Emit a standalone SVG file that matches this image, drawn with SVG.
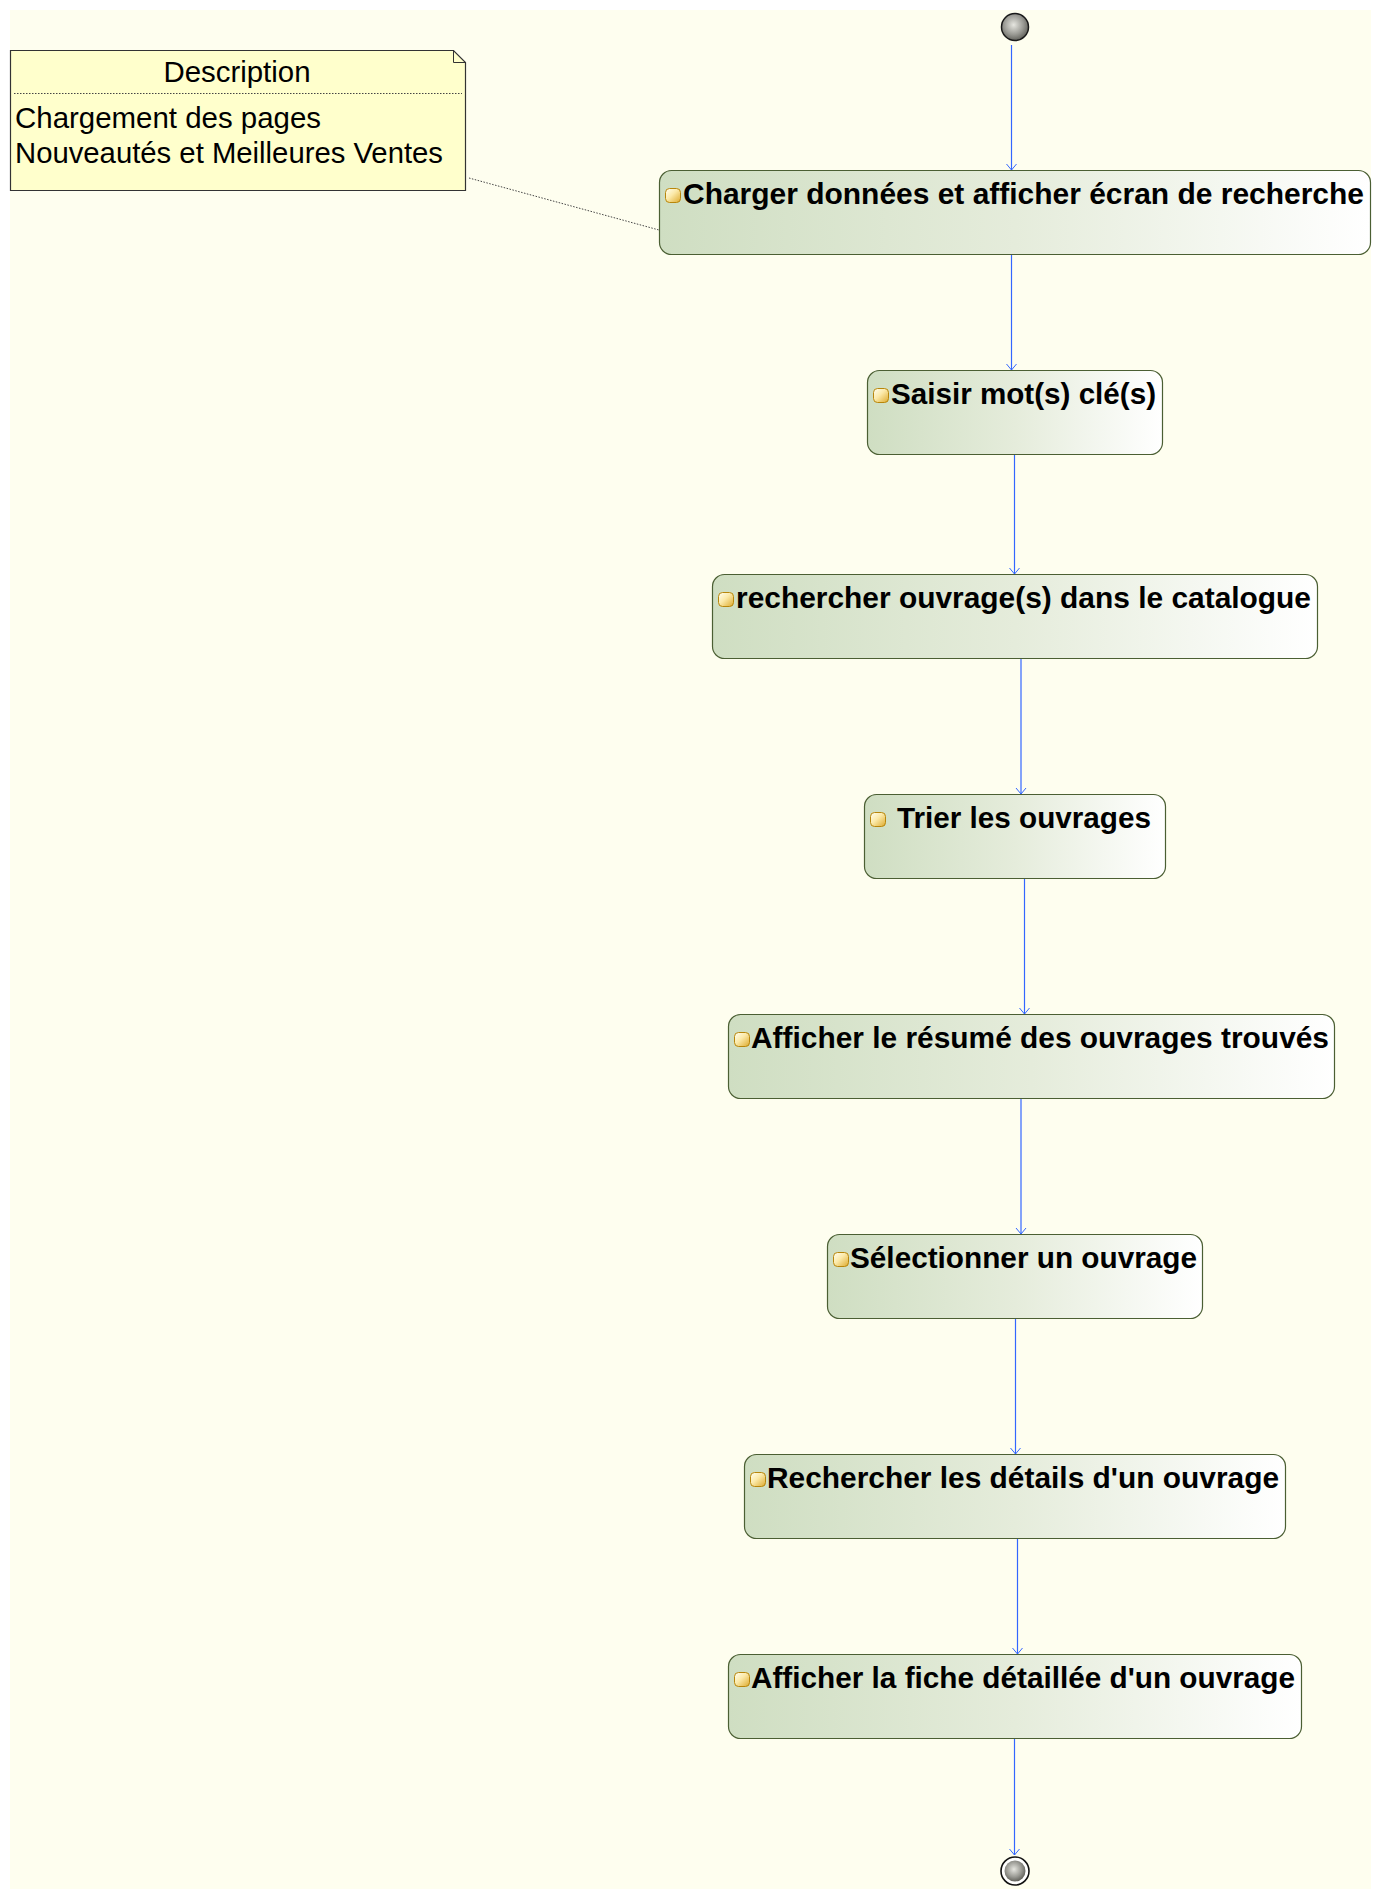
<svg xmlns="http://www.w3.org/2000/svg" width="1381" height="1899" viewBox="0 0 1381 1899">
<defs>
<linearGradient id="nodeGrad" x1="0" y1="0" x2="1" y2="0">
<stop offset="0" stop-color="#CFDEC2"/>
<stop offset="0.5" stop-color="#E5ECDB"/>
<stop offset="1" stop-color="#FFFFFF"/>
</linearGradient>
<linearGradient id="iconGrad" x1="0" y1="0" x2="1" y2="1">
<stop offset="0" stop-color="#FFFFF4"/>
<stop offset="0.45" stop-color="#FBE9A8"/>
<stop offset="1" stop-color="#DDA92C"/>
</linearGradient>
<radialGradient id="ballGrad" cx="0.45" cy="0.42" r="0.6">
<stop offset="0" stop-color="#E6E6E0"/>
<stop offset="0.6" stop-color="#9A9A94"/>
<stop offset="1" stop-color="#5E5E58"/>
</radialGradient>
<marker id="arrow" markerUnits="userSpaceOnUse" markerWidth="14" markerHeight="14" viewBox="-8 -7 10 14" refX="0" refY="0" orient="auto">
<path d="M-6,-5 L0,0 L-6,5" fill="none" stroke="#3366FF" stroke-width="1"/>
</marker>
</defs>
<style>
.bg{fill:#FEFEEF;}
.node{fill:url(#nodeGrad);stroke:#4B5F33;stroke-width:1.2;}
.icon{fill:url(#iconGrad);stroke:#B8860B;stroke-width:1;}
.label{font-family:"Liberation Sans",Arial,sans-serif;font-weight:bold;font-size:30px;fill:#000;}
.note{fill:#FFFFCC;stroke:#333333;stroke-width:1.2;}
.notetext{font-family:"Liberation Sans",Arial,sans-serif;font-size:29px;fill:#000;}
.flow{stroke:#3366FF;stroke-width:1.2;fill:none;marker-end:url(#arrow);}
.anchor{stroke:#444444;stroke-width:1;stroke-dasharray:1.5 1.5;fill:none;}
</style>
<rect class="bg" x="10" y="10" width="1361" height="1879"/>

<g id="note">
<path class="note" d="M10.5,50.5 L453.5,50.5 L465.5,62.5 L465.5,190.5 L10.5,190.5 Z"/>
<path d="M453.5,50.5 L453.5,62.5 L465.5,62.5" fill="none" stroke="#333333" stroke-width="1"/>
<line x1="14" y1="93.5" x2="462" y2="93.5" stroke="#444444" stroke-width="1" stroke-dasharray="1.5 1.5"/>
<text class="notetext" x="237" y="81.5" text-anchor="middle" textLength="147" lengthAdjust="spacingAndGlyphs">Description</text>
<text class="notetext" x="15" y="127.5" textLength="306" lengthAdjust="spacingAndGlyphs">Chargement des pages</text>
<text class="notetext" x="15" y="162.5" textLength="428" lengthAdjust="spacingAndGlyphs">Nouveautés et Meilleures Ventes</text>
</g>

<g id="start">
<circle cx="1015" cy="27" r="13.5" fill="url(#ballGrad)" stroke="#1A1A1A" stroke-width="1.5"/>
</g>

<g id="n1">
<rect class="node" x="659.5" y="170.5" width="711" height="84" rx="12"/>
<rect class="icon" x="665.5" y="188.5" width="15" height="14" rx="4"/>
<text class="label" x="683" y="204" textLength="681" lengthAdjust="spacingAndGlyphs">Charger données et afficher écran de recherche</text>
</g>

<g id="n2">
<rect class="node" x="867.5" y="370.5" width="295" height="84" rx="12"/>
<rect class="icon" x="873.5" y="388.5" width="15" height="14" rx="4"/>
<text class="label" x="891" y="404" textLength="265" lengthAdjust="spacingAndGlyphs">Saisir mot(s) clé(s)</text>
</g>

<g id="n3">
<rect class="node" x="712.5" y="574.5" width="605" height="84" rx="12"/>
<rect class="icon" x="718.5" y="592.5" width="15" height="14" rx="4"/>
<text class="label" x="736" y="608" textLength="575" lengthAdjust="spacingAndGlyphs">rechercher ouvrage(s) dans le catalogue</text>
</g>

<g id="n4">
<rect class="node" x="864.5" y="794.5" width="301" height="84" rx="12"/>
<rect class="icon" x="870.5" y="812.5" width="15" height="14" rx="4"/>
<text class="label" x="897" y="828" textLength="254" lengthAdjust="spacingAndGlyphs">Trier les ouvrages</text>
</g>

<g id="n5">
<rect class="node" x="728.5" y="1014.5" width="606" height="84" rx="12"/>
<rect class="icon" x="734.5" y="1032.5" width="15" height="14" rx="4"/>
<text class="label" x="751" y="1048" textLength="578" lengthAdjust="spacingAndGlyphs">Afficher le résumé des ouvrages trouvés</text>
</g>

<g id="n6">
<rect class="node" x="827.5" y="1234.5" width="375" height="84" rx="12"/>
<rect class="icon" x="833.5" y="1252.5" width="15" height="14" rx="4"/>
<text class="label" x="850" y="1268" textLength="347" lengthAdjust="spacingAndGlyphs">Sélectionner un ouvrage</text>
</g>

<g id="n7">
<rect class="node" x="744.5" y="1454.5" width="541" height="84" rx="12"/>
<rect class="icon" x="750.5" y="1472.5" width="15" height="14" rx="4"/>
<text class="label" x="767" y="1488" textLength="512" lengthAdjust="spacingAndGlyphs">Rechercher les détails d'un ouvrage</text>
</g>

<g id="n8">
<rect class="node" x="728.5" y="1654.5" width="573" height="84" rx="12"/>
<rect class="icon" x="734.5" y="1672.5" width="15" height="14" rx="4"/>
<text class="label" x="751" y="1688" textLength="544" lengthAdjust="spacingAndGlyphs">Afficher la fiche détaillée d'un ouvrage</text>
</g>

<g id="end">
<circle cx="1015" cy="1871" r="14" fill="#FFFFFF" stroke="#111111" stroke-width="1.6"/>
<circle cx="1015" cy="1871" r="10.5" fill="url(#ballGrad)"/>
</g>

<g id="connectors">
<line class="anchor" x1="469" y1="178" x2="659" y2="230"/>
<line class="flow" x1="1011.5" y1="45" x2="1011.5" y2="170"/>
<line class="flow" x1="1011.5" y1="255" x2="1011.5" y2="370"/>
<line class="flow" x1="1014.5" y1="455" x2="1014.5" y2="574"/>
<line class="flow" x1="1021" y1="659" x2="1021" y2="794"/>
<line class="flow" x1="1024.5" y1="879" x2="1024.5" y2="1014"/>
<line class="flow" x1="1021" y1="1099" x2="1021" y2="1234"/>
<line class="flow" x1="1015.5" y1="1319" x2="1015.5" y2="1454"/>
<line class="flow" x1="1017.5" y1="1539" x2="1017.5" y2="1654"/>
<line class="flow" x1="1014.5" y1="1739" x2="1014.5" y2="1855"/>
</g>
</svg>
